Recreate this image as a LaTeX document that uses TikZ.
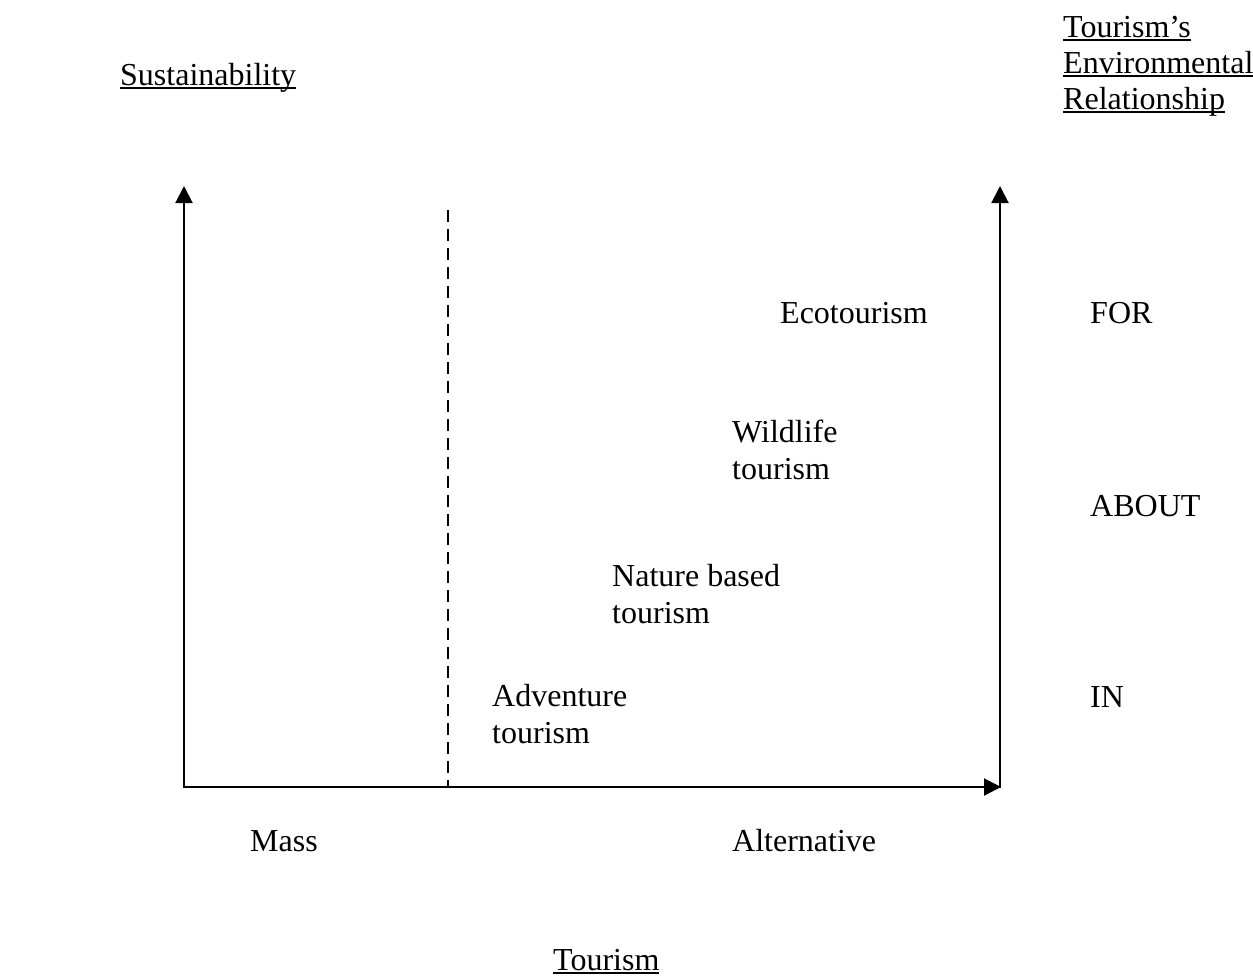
\documentclass[tikz,border=0pt]{standalone}
\usepackage{fontspec}
\setmainfont{Liberation Serif}
\usetikzlibrary{arrows.meta}
\newcommand\myul[1]{\setbox0\hbox{#1}\rlap{\rule[-3.5pt]{\wd0}{1.8pt}}\box0}
\tikzset{
  lbl/.style={font=\fontsize{32}{37}\selectfont, inner sep=0pt, anchor=base west, align=left},
  axis/.style={line width=2pt, -{Triangle[length=17pt,width=17pt]}},
}
\begin{document}
\begin{tikzpicture}[x=1pt,y=-1pt]
\useasboundingbox (0,0) rectangle (1253,978);
\coordinate (o) at (184,787);
\coordinate (ytop) at (184,186);
\coordinate (xend) at (1001,787);
\coordinate (rbot) at (1000,788);
\coordinate (rtop) at (1000,186);
\coordinate (dtop) at (448,210);
\coordinate (dbot) at (448,787);
\draw[axis] ([yshift=-1pt]o) -- (ytop);
\draw[axis] ([xshift=-1pt]o) -- (xend);
\draw[axis] (rbot) -- (rtop);
\draw[line width=1.5pt, dash pattern=on 12pt off 7pt] (dtop) -- (dbot);
\node[lbl] (sus) at (120,85) {\myul{Sustainability}};
\node[lbl] (ter1) at (1063,37) {\myul{Tourism’s}};
\node[lbl] (ter2) at (1063,73) {\myul{Environmental}};
\node[lbl] (ter3) at (1063,109) {\myul{Relationship}};
\node[lbl] (eco) at (780,323) {Ecotourism};
\node[lbl] (for) at (1090,323) {FOR};
\node[lbl] (wild) at (732,479) {Wildlife\\tourism};
\node[lbl] (about) at (1090,516) {ABOUT};
\node[lbl] (nat) at (612,623) {Nature based\\tourism};
\node[lbl] (adv) at (492,743) {Adventure\\tourism};
\node[lbl] (in) at (1090,707) {IN};
\node[lbl] (mass) at (250,851) {Mass};
\node[lbl] (alt) at (732,851) {Alternative};
\node[lbl] (tour) at (553,970) {\myul{Tourism}};
\end{tikzpicture}
\end{document}
